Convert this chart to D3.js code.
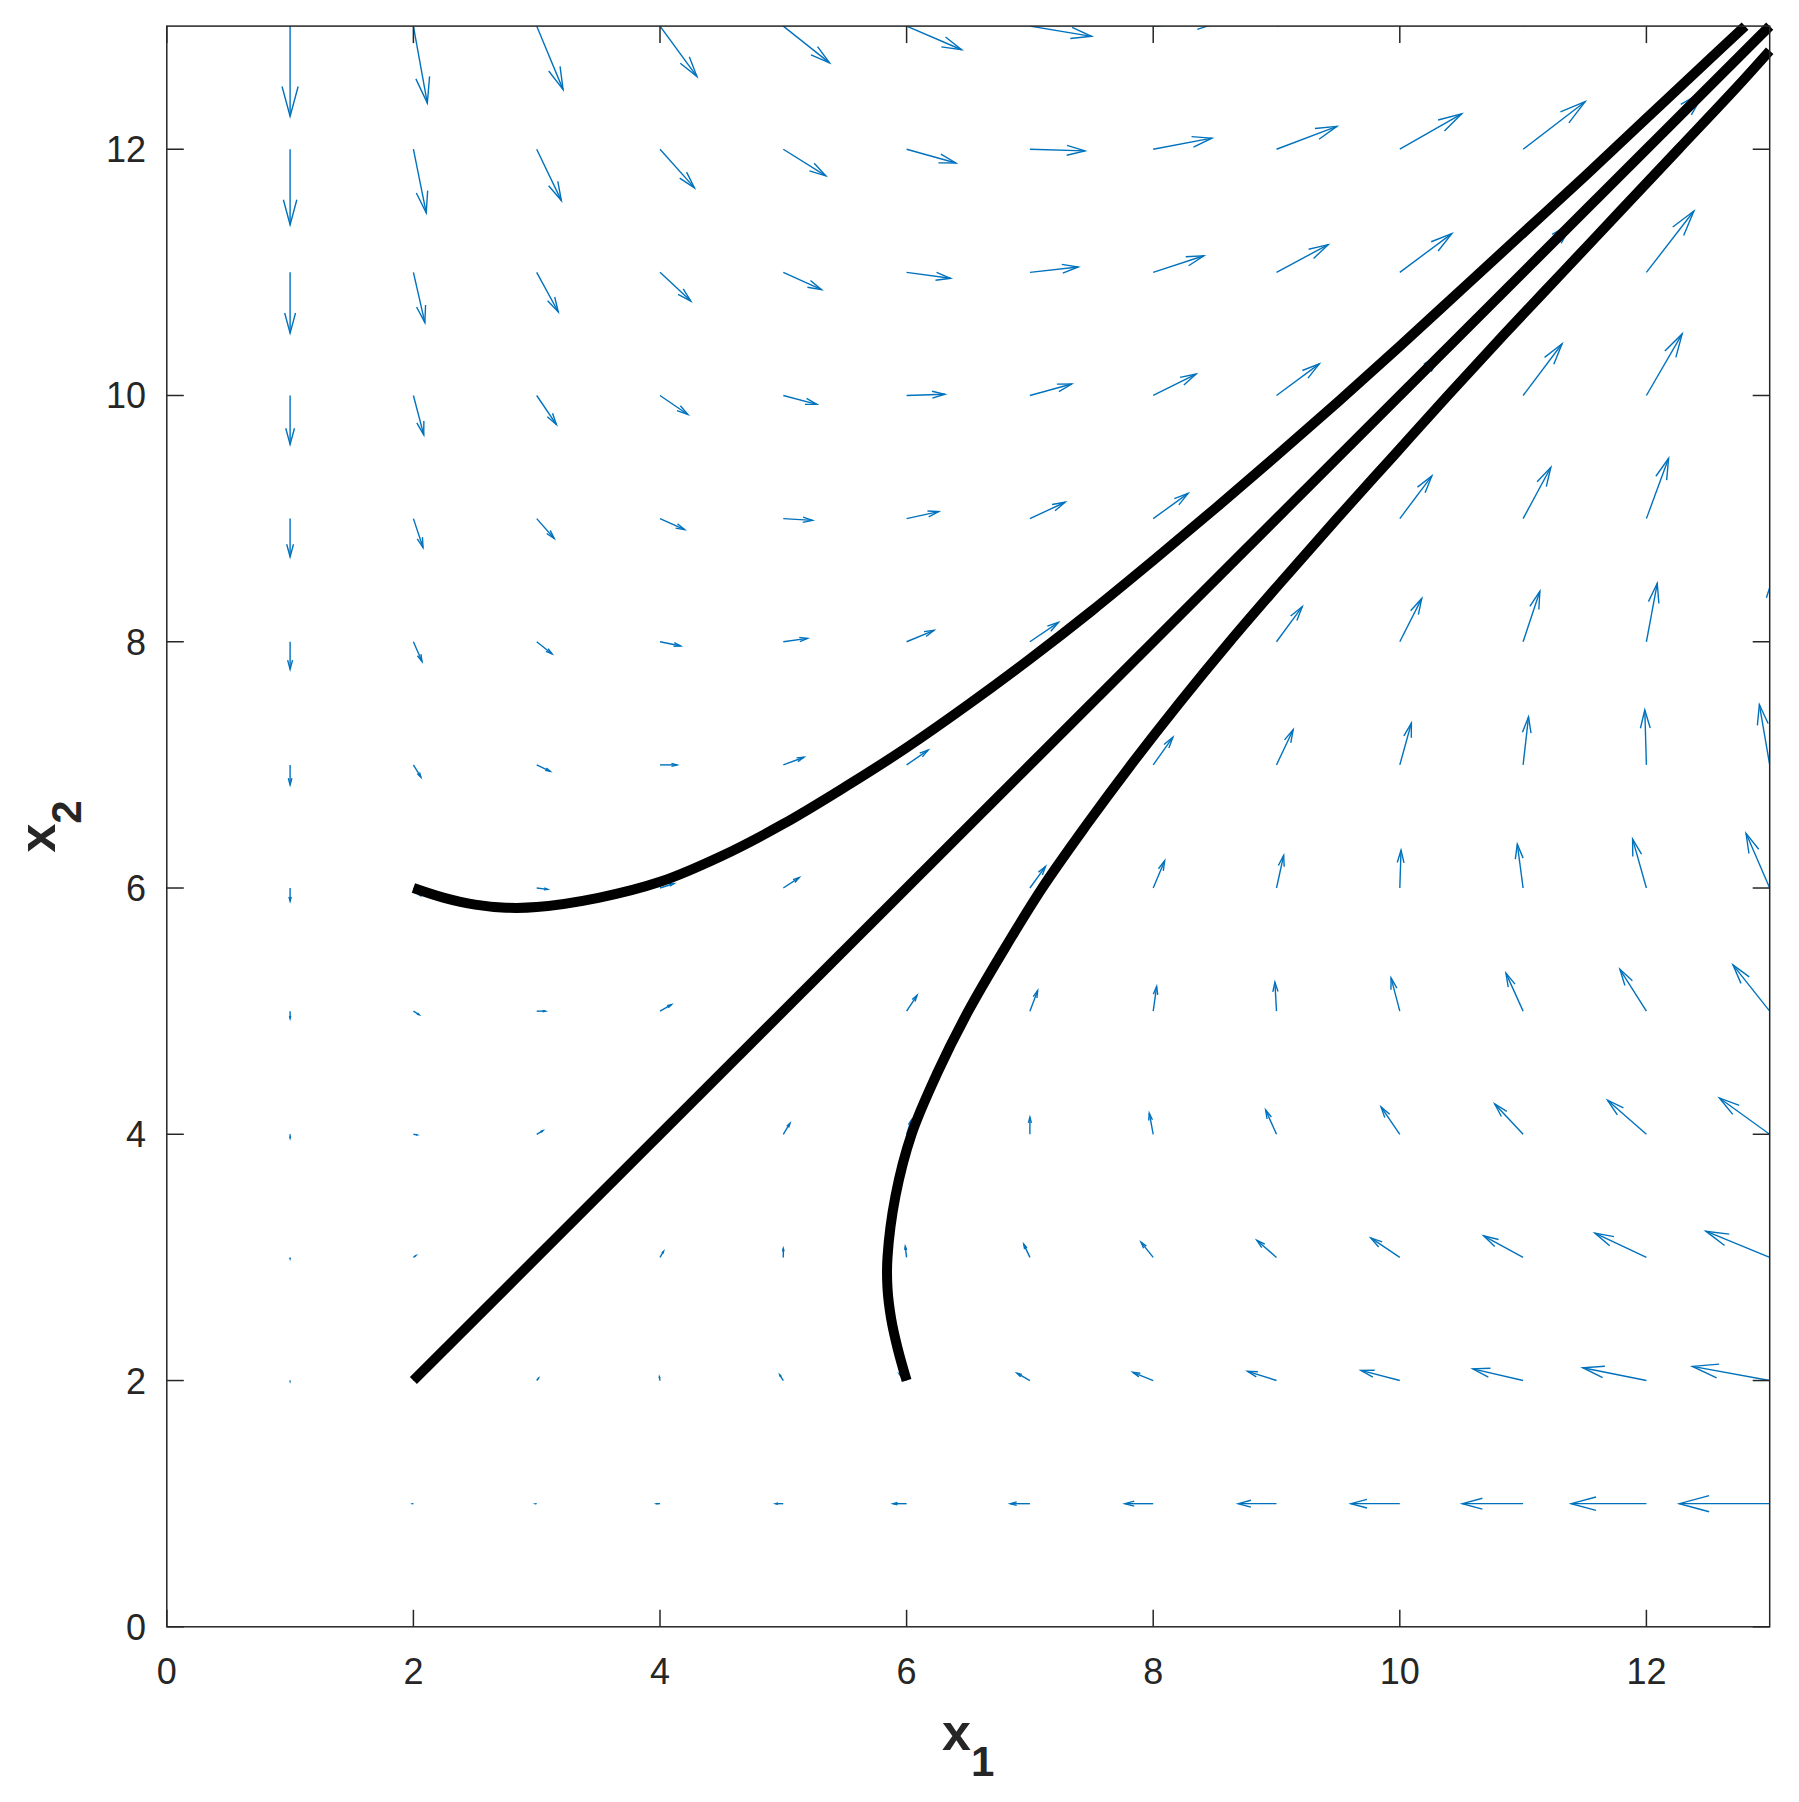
<!DOCTYPE html>
<html>
<head>
<meta charset="utf-8">
<script src="https://cdn.jsdelivr.net/npm/d3@7"></script>
<style>
  html, body { margin: 0; padding: 0; background: #ffffff; }
  svg { display: block; }
  text { font-family: "Liberation Sans", Arial, Helvetica, sans-serif; fill: #262626; }
</style>
</head>
<body>
<svg id="chart" width="1799" height="1802"></svg>
<script>
// ---------- data ----------
const gridX = [1,2,3,4,5,6,7,8,9,10,11,12,13];
const gridY = [1,2,3,4,5,6,7,8,9,10,11,12,13];

// U[row for y=1..13][col for x=1..13]  (arrow x-extent, data units, as drawn)
const U = [
  [0, -0.005, -0.01, -0.029, -0.063, -0.11, -0.16, -0.23, -0.31, -0.397, -0.493, -0.61, -0.733],
  [0, 0.008, 0.015, -0.005, -0.029, -0.06, -0.105, -0.165, -0.235, -0.315, -0.408, -0.516, -0.627],
  [0, 0.02, 0.03, 0.029, 0.0, -0.011, -0.05, -0.099, -0.16, -0.235, -0.32, -0.418, -0.518],
  [0, 0.03, 0.05, 0.056, 0.054, 0.037, 0.0, -0.032, -0.088, -0.152, -0.23, -0.315, -0.408],
  [0, 0.046, 0.072, 0.093, 0.09, 0.085, 0.063, 0.028, -0.013, -0.071, -0.139, -0.215, -0.298],
  [0, 0.055, 0.089, 0.114, 0.129, 0.128, 0.127, 0.093, 0.058, 0.01, -0.047, -0.112, -0.192],
  [0, 0.061, 0.11, 0.139, 0.168, 0.175, 0.171, 0.16, 0.135, 0.094, 0.044, -0.013, -0.084],
  [0, 0.07, 0.125, 0.168, 0.197, 0.223, 0.232, 0.219, 0.209, 0.178, 0.136, 0.088, 0.03],
  [0, 0.078, 0.142, 0.20, 0.237, 0.26, 0.286, 0.283, 0.272, 0.26, 0.225, 0.18, 0.14],
  [0, 0.084, 0.16, 0.226, 0.272, 0.31, 0.339, 0.348, 0.347, 0.335, 0.316, 0.29, 0.25],
  [0, 0.093, 0.175, 0.25, 0.31, 0.356, 0.392, 0.411, 0.419, 0.422, 0.406, 0.385, 0.36],
  [0, 0.104, 0.20, 0.28, 0.345, 0.40, 0.447, 0.476, 0.49, 0.502, 0.503, 0.48, 0.47],
  [0, 0.113, 0.214, 0.30, 0.375, 0.446, 0.50, 0.53, 0.55, 0.56, 0.56, 0.56, 0.56]
];
// V[row for y=1..13][col for x=1..13]  (arrow y-extent, data units, as drawn)
const V = [
  [0, 0, 0, 0, 0, 0, 0, 0, 0, 0, 0, 0, 0],
  [-0.005, 0.008, 0.02, 0.03, 0.046, 0.054, 0.06, 0.067, 0.075, 0.083, 0.095, 0.104, 0.115],
  [-0.01, 0.015, 0.03, 0.049, 0.072, 0.09, 0.108, 0.124, 0.139, 0.158, 0.175, 0.197, 0.213],
  [-0.03, -0.005, 0.029, 0.056, 0.09, 0.113, 0.139, 0.171, 0.197, 0.222, 0.246, 0.277, 0.295],
  [-0.06, -0.029, 0.0, 0.053, 0.09, 0.129, 0.168, 0.2, 0.236, 0.27, 0.309, 0.34, 0.376],
  [-0.107, -0.06, -0.011, 0.037, 0.085, 0.128, 0.176, 0.221, 0.265, 0.307, 0.356, 0.397, 0.444],
  [-0.162, -0.10, -0.052, 0.0, 0.062, 0.12, 0.171, 0.225, 0.285, 0.34, 0.39, 0.446, 0.49],
  [-0.223, -0.16, -0.099, -0.034, 0.027, 0.093, 0.158, 0.219, 0.285, 0.352, 0.41, 0.475, 0.53],
  [-0.31, -0.235, -0.161, -0.089, -0.014, 0.057, 0.133, 0.205, 0.272, 0.347, 0.417, 0.49, 0.55],
  [-0.397, -0.32, -0.236, -0.154, -0.072, 0.01, 0.093, 0.174, 0.257, 0.335, 0.42, 0.50, 0.56],
  [-0.493, -0.408, -0.322, -0.233, -0.14, -0.048, 0.044, 0.135, 0.225, 0.315, 0.406, 0.498, 0.56],
  [-0.613, -0.516, -0.417, -0.314, -0.216, -0.112, -0.013, 0.09, 0.186, 0.288, 0.386, 0.48, 0.56],
  [-0.732, -0.625, -0.516, -0.41, -0.299, -0.192, -0.083, 0.03, 0.14, 0.25, 0.36, 0.47, 0.56]
];

// trajectories
const traj1X = [2.0, 2.25, 2.5, 2.75, 3.0, 3.5, 4.0, 4.5, 5.0, 5.5, 6.0, 6.5, 7.0, 7.5, 8.0, 8.5, 9.0, 9.5, 10.0, 10.5, 11.0, 11.5, 12.0, 12.5, 12.8];
const traj1Y = [6.0, 5.92, 5.865, 5.84, 5.845, 5.92, 6.05, 6.26, 6.52, 6.82, 7.14, 7.49, 7.86, 8.25, 8.66, 9.08, 9.51, 9.95, 10.40, 10.86, 11.32, 11.78, 12.25, 12.72, 13.0];
const traj2X = [2, 13];
const traj2Y = [2, 13];
const traj3X = [6.0, 5.93, 5.875, 5.845, 5.845, 5.91, 6.04, 6.25, 6.50, 6.79, 7.10, 7.45, 7.82, 8.21, 8.62, 9.05, 9.49, 9.94, 10.39, 10.85, 11.32, 11.79, 12.26, 12.73, 13.0];
const traj3Y = [2.0, 2.25, 2.5, 2.75, 3.0, 3.5, 4.0, 4.5, 5.0, 5.5, 6.0, 6.5, 7.0, 7.5, 8.0, 8.5, 9.0, 9.5, 10.0, 10.5, 11.0, 11.5, 12.0, 12.5, 12.8];

const xTicks = [0,2,4,6,8,10,12];
const yTicks = [0,2,4,6,8,10,12];

// ---------- layout ----------
const L = 166.8, R = 1769.7, T = 26.1, B = 1626.8;
const svg = d3.select("#chart");
const x = d3.scaleLinear().domain([0,13]).range([L,R]);
const y = d3.scaleLinear().domain([0,13]).range([B,T]);
const axisColor = "#262626";

svg.append("defs").append("clipPath").attr("id","plotclip")
  .append("rect").attr("x",L).attr("y",T).attr("width",R-L).attr("height",B-T);

// ---------- quiver ----------
const alpha = 0.33, beta = 0.27;
const arrows = [];
gridY.forEach((yy, i) => gridX.forEach((xx, j) => {
  arrows.push({x: xx, y: yy, u: U[i][j], v: V[i][j]});
}));
const qg = svg.append("g").attr("clip-path","url(#plotclip)")
  .attr("fill","none").attr("stroke","#0072BD").attr("stroke-width",1.4)
  .attr("stroke-linejoin","miter");
arrows.filter(a => a.u !== 0 || a.v !== 0).forEach(a => {
  const tx = a.x + a.u, ty = a.y + a.v;
  qg.append("line")
    .attr("x1", x(a.x)).attr("y1", y(a.y))
    .attr("x2", x(tx)).attr("y2", y(ty));
  const h1x = tx - alpha*(a.u + beta*a.v), h1y = ty - alpha*(a.v - beta*a.u);
  const h2x = tx - alpha*(a.u - beta*a.v), h2y = ty - alpha*(a.v + beta*a.u);
  qg.append("polyline")
    .attr("points", [[x(h1x),y(h1y)],[x(tx),y(ty)],[x(h2x),y(h2y)]].map(p=>p.join(",")).join(" "));
});

// ---------- trajectories ----------
const line = d3.line().x(d => x(d[0])).y(d => y(d[1])).curve(d3.curveCatmullRom.alpha(0.5));
[[traj1X,traj1Y],[traj2X,traj2Y],[traj3X,traj3Y]].forEach(([xs,ys]) => {
  svg.append("path")
    .attr("d", line(xs.map((v,k)=>[v, ys[k]])))
    .attr("fill","none").attr("stroke","#000").attr("stroke-width",10)
    .attr("stroke-linecap","butt").attr("stroke-linejoin","round");
});

// ---------- axes box & ticks ----------
const ag = svg.append("g").attr("stroke",axisColor).attr("stroke-width",1.5).attr("fill","none");
ag.append("rect").attr("x",L).attr("y",T).attr("width",R-L).attr("height",B-T);
const tl = 17;
xTicks.forEach(t => {
  ag.append("line").attr("x1",x(t)).attr("x2",x(t)).attr("y1",B).attr("y2",B-tl);
  ag.append("line").attr("x1",x(t)).attr("x2",x(t)).attr("y1",T).attr("y2",T+tl);
});
yTicks.forEach(t => {
  ag.append("line").attr("x1",L).attr("x2",L+tl).attr("y1",y(t)).attr("y2",y(t));
  ag.append("line").attr("x1",R).attr("x2",R-tl).attr("y1",y(t)).attr("y2",y(t));
});

// tick labels
const fs = 36;
xTicks.forEach(t => {
  svg.append("text").attr("x",x(t)).attr("y",1684).attr("text-anchor","middle")
    .attr("font-size",fs).text(t);
});
yTicks.forEach(t => {
  svg.append("text").attr("x",146).attr("y",y(t)+13).attr("text-anchor","end")
    .attr("font-size",fs).text(t);
});

// axis labels
const xl = svg.append("text").attr("x",(L+R)/2).attr("y",1750).attr("text-anchor","middle")
  .attr("font-size",52).attr("font-weight","bold");
xl.append("tspan").text("x");
xl.append("tspan").attr("dy",26).attr("font-size",42).text("1");

const yl = svg.append("text").attr("transform",`translate(55,${(T+B)/2}) rotate(-90)`)
  .attr("text-anchor","middle").attr("font-size",52).attr("font-weight","bold");
yl.append("tspan").text("x");
yl.append("tspan").attr("dy",26).attr("font-size",42).text("2");
</script>
</body>
</html>
